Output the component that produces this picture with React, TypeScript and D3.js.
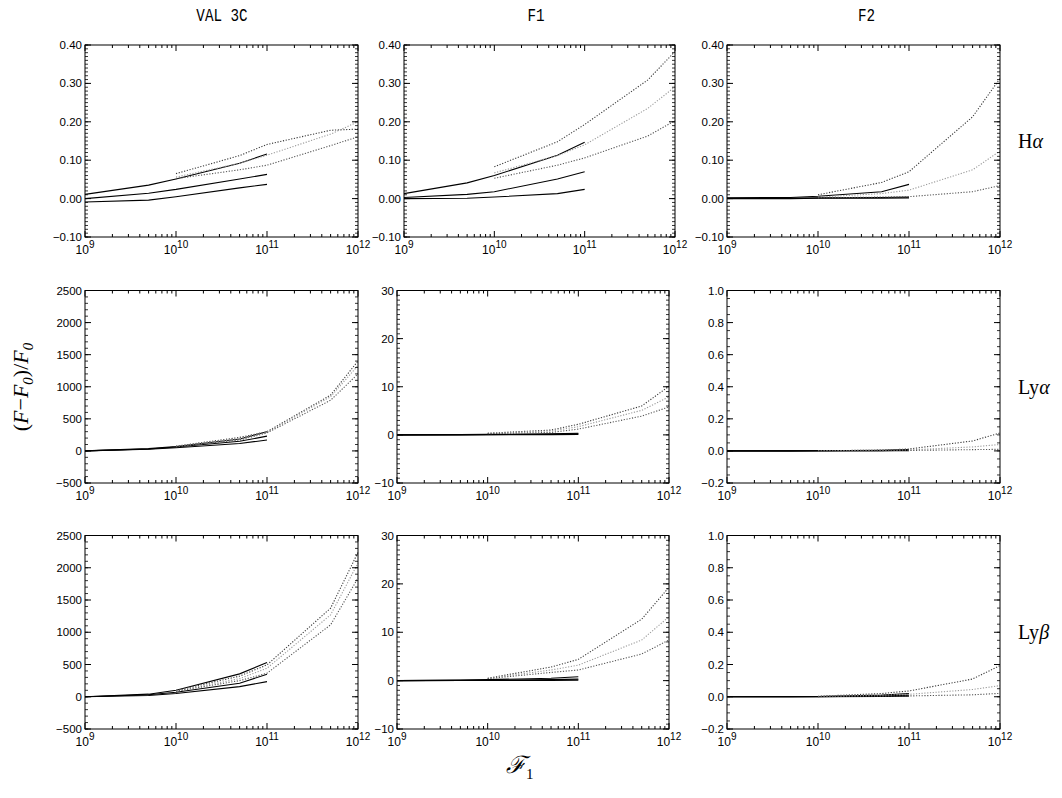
import React from 'react';
import * as d3 from 'd3';

// x positions of the model points
const solidX = [1e9, 5e9, 1e10, 5e10, 1e11];
const dottedX = [1e10, 5e10, 1e11, 5e11, 1e12];

const columns = ['VAL 3C', 'F1', 'F2'];
const lines = ['H', 'Ly', 'Ly'];
const lineGreek = ['α', 'α', 'β'];

// y ranges per row/col: [min, max, major step, minor step]
const yRanges = [
  [[-0.1, 0.4, 0.1, 0.01], [-0.1, 0.4, 0.1, 0.01], [-0.1, 0.4, 0.1, 0.01]],
  [[-500, 2500, 500, 100], [-10, 30, 10, 1], [-0.2, 1.0, 0.2, 0.05]],
  [[-500, 2500, 500, 100], [-10, 30, 10, 1], [-0.2, 1.0, 0.2, 0.05]],
];

// H alpha
const haValSolid = [
  [0.011, 0.035, 0.051, 0.092, 0.116],
  [0.000, 0.014, 0.024, 0.051, 0.063],
  [-0.009, -0.004, 0.005, 0.028, 0.037],
];
const haValDotted = [
  [0.065, 0.112, 0.141, 0.178, 0.181],
  [0.056, 0.092, 0.113, 0.168, 0.200],
  [0.052, 0.075, 0.087, 0.138, 0.161],
];
const haF1Solid = [
  [0.013, 0.041, 0.060, 0.113, 0.147],
  [0.003, 0.011, 0.018, 0.051, 0.070],
  [0.000, 0.001, 0.004, 0.013, 0.024],
];
const haF1Dotted = [
  [0.083, 0.148, 0.193, 0.309, 0.383],
  [0.067, 0.112, 0.140, 0.235, 0.291],
  [0.053, 0.087, 0.106, 0.163, 0.203],
];
const haF2Solid = [
  [0.002, 0.003, 0.006, 0.018, 0.037],
  [0.001, 0.001, 0.002, 0.003, 0.004],
  [0.000, 0.000, 0.001, 0.001, 0.002],
];
const haF2Dotted = [
  [0.010, 0.042, 0.070, 0.213, 0.313],
  [0.004, 0.013, 0.022, 0.075, 0.124],
  [0.002, 0.004, 0.005, 0.018, 0.034],
];

// Ly alpha
const laValSolid = [
  [0, 35, 70, 185, 300],
  [0, 30, 60, 150, 230],
  [0, 25, 50, 115, 170],
];
const laValDotted = [
  [75, 210, 300, 870, 1400],
  [70, 190, 290, 845, 1330],
  [65, 170, 280, 790, 1200],
];
const laF1Solid = [
  [0, 0.05, 0.1, 0.2, 0.35],
  [0, 0.03, 0.05, 0.1, 0.2],
  [0, 0.01, 0.02, 0.05, 0.1],
];
const laF1Dotted = [
  [0.35, 1.0, 2.2, 6.0, 10.1],
  [0.3, 0.8, 1.7, 5.1, 7.9],
  [0.25, 0.5, 1.2, 3.9, 5.8],
];
const laF2Solid = [
  [0, 0.0005, 0.001, 0.004, 0.008],
  [0, 0.0003, 0.0006, 0.002, 0.004],
  [0, 0.0001, 0.0002, 0.001, 0.002],
];
const laF2Dotted = [
  [0.001, 0.005, 0.012, 0.062, 0.112],
  [0.001, 0.003, 0.006, 0.025, 0.040],
  [0.0005, 0.002, 0.003, 0.008, 0.010],
];

// Ly beta
const lbValSolid = [
  [0, 40, 100, 355, 530],
  [0, 30, 70, 210, 350],
  [0, 20, 50, 157, 235],
];
const lbValDotted = [
  [95, 320, 494, 1374, 2238],
  [90, 280, 442, 1270, 2073],
  [85, 250, 365, 1115, 1840],
];
const lbF1Solid = [
  [0, 0.1, 0.2, 0.5, 0.8],
  [0, 0.05, 0.1, 0.2, 0.3],
  [0, 0.02, 0.03, 0.06, 0.1],
];
const lbF1Dotted = [
  [0.5, 2.8, 4.4, 12.7, 19.3],
  [0.45, 2.2, 3.2, 8.4, 13.2],
  [0.4, 1.7, 2.2, 5.5, 8.4],
];
const lbF2Solid = [
  [0, 0.001, 0.002, 0.01, 0.02],
  [0, 0.0005, 0.001, 0.005, 0.01],
  [0, 0.0002, 0.0005, 0.002, 0.004],
];
const lbF2Dotted = [
  [0.003, 0.02, 0.036, 0.11, 0.194],
  [0.002, 0.01, 0.015, 0.045, 0.069],
  [0.001, 0.004, 0.005, 0.012, 0.021],
];

const solidData = [
  [haValSolid, haF1Solid, haF2Solid],
  [laValSolid, laF1Solid, laF2Solid],
  [lbValSolid, lbF1Solid, lbF2Solid],
];
const dottedData = [
  [haValDotted, haF1Dotted, haF2Dotted],
  [laValDotted, laF1Dotted, laF2Dotted],
  [lbValDotted, lbF1Dotted, lbF2Dotted],
];

const xDecades = [1e9, 1e10, 1e11, 1e12];

// panel frames in page pixels
const colBox = [[85, 358], [397, 669], [727, 1000]];
const rowBox = [[45, 237], [290.5, 483], [535.5, 729]];

const dotColors = ['#3a3a3a', '#9a9a9a', '#555'];
const font = '"Liberation Sans", Arial, sans-serif';

function fmt(v: number, step: number) {
  if (step >= 1) return d3.format('d')(v).replace('-', '−');
  const dec = Math.abs(step - 0.1) < 1e-9 ? 2 : 1;
  return d3.format(`.${dec}f`)(v).replace('-', '−');
}

function Panel({ row, col }: { row: number; col: number }) {
  let [x0, x1] = colBox[col];
  if (row === 0 && col === 1) { x0 = 404; x1 = 675; }
  const [y0, y1] = rowBox[row];
  const [ymin, ymax, step, minor] = yRanges[row][col];

  const x = d3.scaleLog().domain([1e9, 1e12]).range([x0, x1]);
  const y = d3.scaleLinear().domain([ymin, ymax]).range([y1, y0]);

  const line = d3.line<[number, number]>()
    .x((d) => x(d[0]))
    .y((d) => y(d[1]));

  const majorY = d3.range(ymin, ymax + step / 2, step);
  const nMinor = Math.round((ymax - ymin) / minor);
  const minorY = d3.range(0, nMinor + 1).map((i) => ymin + i * minor);

  const minorX: number[] = [];
  for (let d = 1e9; d < 1e12; d *= 10) {
    for (let k = 2; k <= 9; k++) minorX.push(d * k);
  }

  const M = 6, m = 3;

  return (
    <g>
      {/* data */}
      {solidData[row][col].map((s, i) => (
        <path key={'s' + i} d={line(solidX.map((xv, j) => [xv, s[j]]) as [number, number][]) || ''}
          fill="none" stroke="#000" strokeWidth={1.1} />
      ))}
      {dottedData[row][col].map((s, i) => (
        <path key={'d' + i} d={line(dottedX.map((xv, j) => [xv, s[j]]) as [number, number][]) || ''}
          fill="none" stroke={dotColors[i]} strokeWidth={1.1} strokeDasharray="1.2,1.6" />
      ))}

      <rect x={x0} y={y0} width={x1 - x0} height={y1 - y0} fill="none" stroke="#000" strokeWidth={1} />

      {/* x ticks, bottom and top */}
      {xDecades.map((v) => (
        <g key={'xM' + v}>
          <line x1={x(v)} x2={x(v)} y1={y1} y2={y1 - M} stroke="#000" />
          <line x1={x(v)} x2={x(v)} y1={y0} y2={y0 + M} stroke="#000" />
          <text x={x(v)} y={y1 + 17} textAnchor="middle" fontFamily={font} fontSize={12}>
            10<tspan fontSize={10} dy={-6}>{Math.round(Math.log10(v))}</tspan>
          </text>
        </g>
      ))}
      {minorX.map((v) => (
        <g key={'xm' + v}>
          <line x1={x(v)} x2={x(v)} y1={y1} y2={y1 - m} stroke="#000" />
          <line x1={x(v)} x2={x(v)} y1={y0} y2={y0 + m} stroke="#000" />
        </g>
      ))}

      {/* y ticks, left and right */}
      {majorY.map((v) => (
        <g key={'yM' + v}>
          <line x1={x0} x2={x0 + M} y1={y(v)} y2={y(v)} stroke="#000" />
          <line x1={x1} x2={x1 - M} y1={y(v)} y2={y(v)} stroke="#000" />
          <text x={x0 - 3} y={y(v) + 4} textAnchor="end" fontFamily={font} fontSize={11.5}>
            {fmt(Math.abs(v) < 1e-9 ? 0 : v, step)}
          </text>
        </g>
      ))}
      {minorY.map((v, i) => (
        <g key={'ym' + i}>
          <line x1={x0} x2={x0 + m} y1={y(v)} y2={y(v)} stroke="#000" strokeWidth={0.8} />
          <line x1={x1} x2={x1 - m} y1={y(v)} y2={y(v)} stroke="#000" strokeWidth={0.8} />
        </g>
      ))}
    </g>
  );
}

export default function App() {
  const rows = [0, 1, 2];
  const cols = [0, 1, 2];
  const serif = '"Liberation Serif", "Times New Roman", serif';
  return (
    <svg width={1062} height={798} style={{ position: 'absolute', left: 0, top: 0, background: '#fff' }}>
      <rect width={1062} height={798} fill="#fff" />
      {columns.map((c, i) => {
        const [a, b] = colBox[i];
        const cx = i === 0 ? 222 : (a + b) / 2 + 3;
        return (
          <text key={c} transform={`translate(${cx},21) scale(0.75,1)`} textAnchor="middle"
            fontFamily='"Liberation Mono", "DejaVu Sans Mono", monospace' fontSize={19}>
            {c}
          </text>
        );
      })}
      {rows.map((r) => cols.map((c) => <Panel key={r + '-' + c} row={r} col={c} />))}
      {lines.map((l, i) => {
        const [a, b] = rowBox[i];
        return (
          <text key={i} x={1018} y={(a + b) / 2 + 7} fontFamily={serif} fontSize={20}>
            {l}<tspan fontStyle="italic">{lineGreek[i]}</tspan>
          </text>
        );
      })}
      <text transform="translate(28,387) rotate(-90)" textAnchor="middle" fontFamily={serif} fontSize={22}>
        (<tspan fontStyle="italic">F</tspan>−<tspan fontStyle="italic">F</tspan>
        <tspan fontSize={15} dy={5} fontStyle="italic">0</tspan>
        <tspan dy={-5}>)/</tspan><tspan fontStyle="italic">F</tspan>
        <tspan fontSize={15} dy={5} fontStyle="italic">0</tspan>
      </text>
      <text x={506} y={773} fontFamily={serif} fontSize={24} fontStyle="italic">
        ℱ<tspan fontSize={15} dy={6} fontStyle="normal">1</tspan>
      </text>
    </svg>
  );
}
